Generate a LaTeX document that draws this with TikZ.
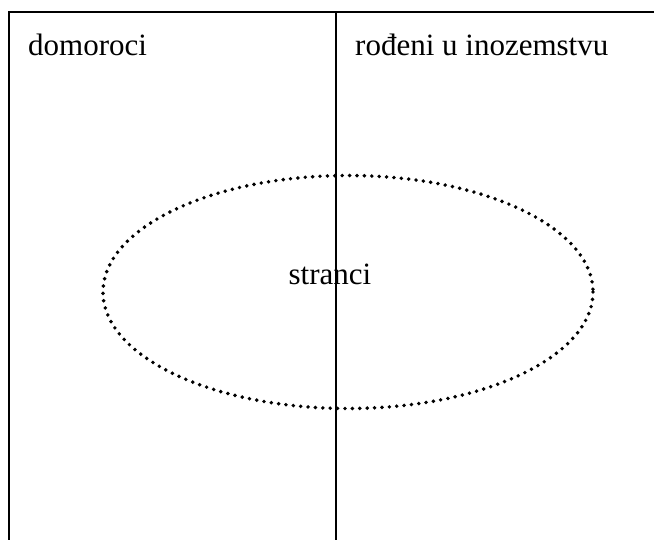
\documentclass[tikz,border=0pt]{standalone}
\usepackage{fontspec}
\setmainfont{Liberation Serif}
\usepackage{tikz}

\begin{document}
\begin{tikzpicture}[
  x=1pt, y=-1pt,
  rule/.style={line width=1.7pt},
  dotline/.style={line width=3.9pt, line cap=round, dash pattern=on 0pt off 7.4pt},
  label/.style={font=\fontsize{31}{36}\selectfont, inner sep=0pt}
]
\useasboundingbox (0,0) rectangle (654,540);
% frame lines
\coordinate (tl) at (9,12);
\coordinate (tr) at (654,12);
\coordinate (bl) at (9,540);
\coordinate (tm) at (336,12);
\coordinate (bm) at (336,540);
\draw[rule] (bl) -- (tl) -- (tr);
\draw[rule] (tm) -- (bm);
% group of foreigners
\draw[dotline] (348,292) ellipse [x radius=245, y radius=116.5];
\node[label, anchor=base west] (dom) at (28,56) {domoroci};
\node[label, anchor=base west] (ino) at (355,56) {rođeni u inozemstvu};
\node[label, anchor=base] (str) at (330,285) {stranci};
\end{tikzpicture}
\end{document}
